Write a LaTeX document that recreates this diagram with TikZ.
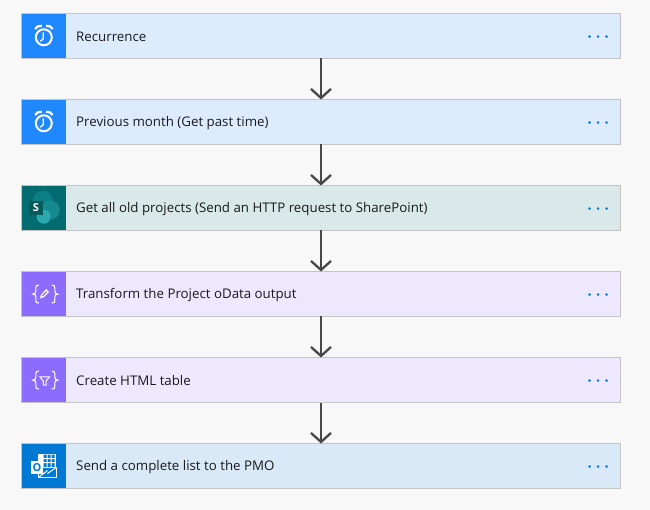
\documentclass[tikz,border=0pt]{standalone}
\usepackage{fontspec}
\setmainfont{Open Sans}
\usetikzlibrary{arrows.meta,calc}
\definecolor{bgc}{HTML}{F8F8F8}
\definecolor{edgec}{HTML}{C4C4C4}
\definecolor{flowc}{HTML}{484848}
\definecolor{dotc}{HTML}{0A78D4}
\definecolor{bluebg}{HTML}{DDEBFF}
\definecolor{blueic}{HTML}{2088FF}
\definecolor{tealbg}{HTML}{D9E8E8}
\definecolor{tealic}{HTML}{036C70}
\definecolor{purpbg}{HTML}{EEE8FF}
\definecolor{purpic}{HTML}{8C6CFF}
\definecolor{outbg}{HTML}{D9E9F8}
\definecolor{outic}{HTML}{0078D4}
\definecolor{spa}{HTML}{0B7F84}
\definecolor{spb}{HTML}{14898E}
\definecolor{spc}{HTML}{2CA9B0}
\definecolor{spd}{HTML}{07595C}
\tikzset{
 card/.style={draw=edgec,line width=1pt,minimum width=599pt,minimum height=45pt,inner sep=0pt,outer sep=0pt},
 iconbox/.style={minimum width=44pt,minimum height=44pt,inner sep=0pt,outer sep=0pt},
 cardtext/.style={anchor=west,inner sep=0pt,text=black!90,font=\fontsize{13.3}{16}\selectfont},
 flow/.style={draw=flowc,line width=2.3pt,-{Straight Barb[length=9pt,width=20pt,line width=2.3pt]}},
 glyph/.style={draw=white,line width=2pt,fill=none},
 thing/.style={draw=white,line width=1pt,fill=none},
 dotm/.style={circle,fill=dotc,minimum size=2.8pt,inner sep=0pt,outer sep=0pt}
}
\newcommand{\clockicon}[1]{%
 \begin{scope}[shift={(#1)}]
  \draw[glyph] (-0.2,1.3) circle (8);
  \draw[draw=white,line width=1.3pt] (-0.7,-3.7) -- (-0.7,2.8) -- (-3.7,5.2);
  \draw[draw=white,line width=2.2pt] (-8.9,-7) .. controls (-8,-9.5) and (-5,-10.5) .. (-2.2,-10.2);
  \draw[draw=white,line width=2.2pt] (8.6,-7) .. controls (7.7,-9.5) and (4.7,-10.5) .. (2,-10.2);
 \end{scope}}
\newcommand{\bracesicon}[1]{%
 \begin{scope}[shift={(#1)},xshift=1.3pt,yshift=-0.1pt]
  \foreach \sgn in {1,-1}{
  \draw[thing,line width=1.1pt,xscale=\sgn] (-6.5,-9) .. controls (-9,-9) and (-9.5,-8) .. (-9.5,-6) -- (-9.5,-3) .. controls (-9.5,-1) and (-10.5,0) .. (-12.5,0) .. controls (-10.5,0) and (-9.5,1) .. (-9.5,3) -- (-9.5,6) .. controls (-9.5,8) and (-9,9) .. (-6.5,9);}
 \end{scope}}
\newcommand{\menudots}[1]{%
 \node[dotm] (#1d1) at ($(#1.east)+(-31,0.6)$) {};
 \node[dotm] (#1d2) at ($(#1.east)+(-22.5,0.6)$) {};
 \node[dotm] (#1d3) at ($(#1.east)+(-14,0.6)$) {};}
\begin{document}
\begin{tikzpicture}[x=1pt,y=-1pt]
\useasboundingbox (0,0) rectangle (650,510);
\fill[bgc] (0,0) rectangle (650,510);
% cards
\node[card,fill=bluebg] (c1) at (321,36) {};
\node[card,fill=bluebg] (c2) at (321,122) {};
\node[card,fill=tealbg] (c3) at (321,208) {};
\node[card,fill=purpbg] (c4) at (321,294) {};
\node[card,fill=purpbg] (c5) at (321,380) {};
\node[card,fill=outbg] (c6) at (321,466) {};
% icon squares
\node[iconbox,fill=blueic] (i1) at (44,36) {};
\node[iconbox,fill=blueic] (i2) at (44,122) {};
\node[iconbox,fill=tealic] (i3) at (44,208) {};
\node[iconbox,fill=purpic] (i4) at (44,294) {};
\node[iconbox,fill=purpic] (i5) at (44,380) {};
\node[iconbox,fill=outic] (i6) at (44,466) {};
% texts
\node[cardtext] (t1) at (76,37) {Recurrence};
\node[cardtext] (t2) at (76,123) {Previous month (Get past time)};
\node[cardtext] (t3) at (76,209) {Get all old projects (Send an HTTP request to SharePoint)};
\node[cardtext] (t4) at (76,295) {Transform the Project oData output};
\node[cardtext] (t5) at (76,381) {Create HTML table};
\node[cardtext] (t6) at (76,467) {Send a complete list to the PMO};
% dots
\menudots{c1}\menudots{c2}\menudots{c3}\menudots{c4}\menudots{c5}\menudots{c6}
% connectors
\draw[flow] (c1.south) -- (c2.north);
\draw[flow] (c2.south) -- (c3.north);
\draw[flow] (c3.south) -- (c4.north);
\draw[flow] (c4.south) -- (c5.north);
\draw[flow] (c5.south) -- (c6.north);
% clock icons
\clockicon{i1}
\clockicon{i2}
% SharePoint icon
\fill[spa] (42.7,201) circle (10.3);
\fill[spb] (50.3,210) circle (9.5);
\fill[spc] (43.7,216.7) circle (7);
\fill[spd] (29.3,201.5) rectangle (42.7,215);
\node[text=white,inner sep=0pt,font=\fontsize{11}{11}\bfseries\selectfont] (s3) at (36,208) {S};
% purple icons
\bracesicon{i4}
\draw[thing,line width=1.2pt] (40.8,297.5) -- (41.6,294.8) -- (46.3,290) -- (48.3,292) -- (43.6,296.7) -- cycle;
\bracesicon{i5}
\draw[thing] (39.8,376.8) -- (49.5,376.8) -- (46,381) -- (46,385) -- (43.3,385) -- (43.3,381) -- cycle;
% Outlook icon
\fill[white] (37.5,453.5) rectangle (55.5,469);
\fill[outic] (43.5,454.5) rectangle (46.5,468) (47.5,454.5) rectangle (50.5,468) (51.5,454.5) rectangle (54.5,468);
\fill[white] (42,458) rectangle (55.5,459) (42,462) rectangle (55.5,463);
\draw[draw=white,line width=1pt,fill=outic] (38.7,467.5) rectangle (56.3,477.3);
\draw[draw=white,line width=1pt] (38.7,477.3) -- (47.5,470.5) (56.3,467.5) -- (47.5,473.5);
\fill[white] (31,460.5) rectangle (43,474);
\node[text=outic,inner sep=0pt,font=\fontsize{11}{11}\bfseries\selectfont] (o6) at (37,467.2) {O};
\end{tikzpicture}
\end{document}
